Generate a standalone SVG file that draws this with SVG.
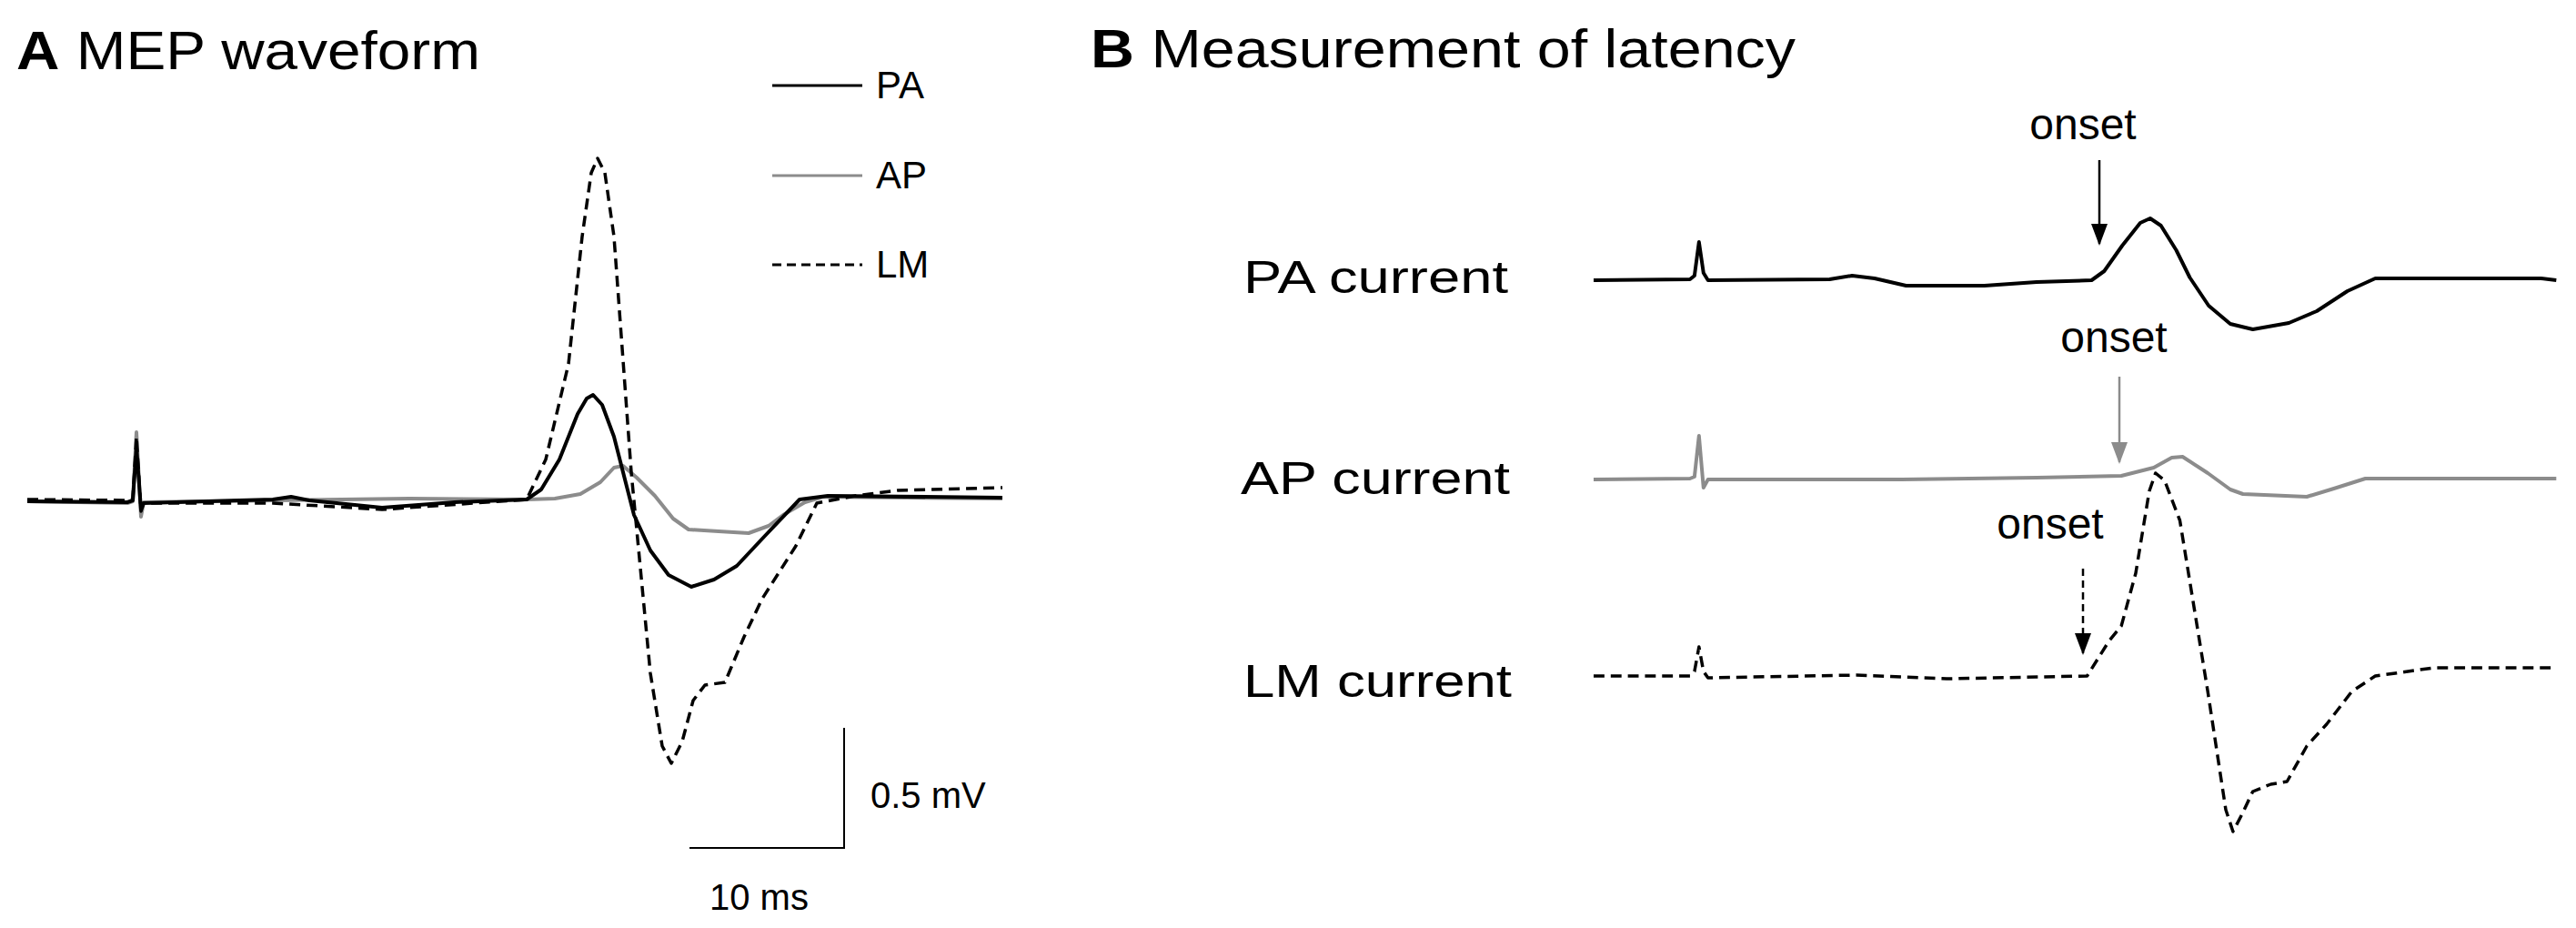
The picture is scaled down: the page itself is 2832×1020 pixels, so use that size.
<svg xmlns="http://www.w3.org/2000/svg" width="2832" height="1020" viewBox="0 0 2832 1020">
<style>
text{font-family:"Liberation Sans",Arial,sans-serif;fill:#000}
.k{fill:none;stroke:#000;stroke-width:4;stroke-linejoin:round}
.g{fill:none;stroke:#8c8c8c;stroke-width:4;stroke-linejoin:round}
.d{fill:none;stroke:#000;stroke-width:3.5;stroke-dasharray:12 7;stroke-linejoin:round}
.t{font-size:60px}
.l{font-size:42px}
.lab{font-size:50px}
.o{font-size:48px;text-anchor:middle}
</style>
<defs>
<marker id="ak" markerWidth="24" markerHeight="18" refX="22" refY="9" orient="auto" markerUnits="userSpaceOnUse" viewBox="0 0 24 18"><path d="M0,0 L24,9 L0,18z" fill="#000"/></marker>
<marker id="ag" markerWidth="24" markerHeight="18" refX="22" refY="9" orient="auto" markerUnits="userSpaceOnUse" viewBox="0 0 24 18"><path d="M0,0 L24,9 L0,18z" fill="#8c8c8c"/></marker>
</defs>
<rect width="2832" height="1020" fill="#fff"/>
<g id="panelA">
<text x="18" y="76" class="t" textLength="510" lengthAdjust="spacingAndGlyphs"><tspan font-weight="bold">A</tspan> MEP waveform</text>
<g id="legend">
<line x1="849" y1="94" x2="948" y2="94" stroke="#000" stroke-width="3"/>
<text x="963" y="108" class="l">PA</text>
<line x1="849" y1="193" x2="948" y2="193" stroke="#8c8c8c" stroke-width="3"/>
<text x="963" y="207" class="l">AP</text>
<line x1="849" y1="291" x2="948" y2="291" stroke="#000" stroke-width="3" stroke-dasharray="10 6"/>
<text x="963" y="305" class="l">LM</text>
</g>
<g id="tracesA">
<path class="g" d="M30,551 L140,553 L146,551 L150,475 L155,568 L158,552 L300,550 L450,548 L579,549 L610,548 L638,543 L660,530 L675,514 L685,512 L700,525 L720,545 L740,570 L757,582 L790,584 L823,586 L845,578 L861,566 L885,552 L905,546 L1102,548"/>
<path class="k" d="M30,551 L140,552 L146,550 L150,492 L155,560 L158,553 L300,549 L320,546 L340,550 L420,558 L500,552 L579,549 L595,538 L615,505 L635,455 L645,438 L652,434 L662,445 L675,480 L697,566 L715,605 L735,632 L760,645 L785,637 L810,622 L840,590 L879,549 L910,545 L1102,547"/>
<path class="d" d="M30,549 L140,550 L146,549 L150,480 L155,562 L158,553 L300,553 L420,560 L579,549 L600,505 L625,400 L640,260 L650,190 L657,174 L665,190 L675,260 L694,519 L715,740 L728,820 L738,839 L750,815 L762,770 L775,753 L797,750 L818,700 L838,658 L875,600 L898,553 L940,545 L987,539 L1102,536"/>
</g>
<g id="scalebar">
<path d="M928,800 L928,932 L758,932" fill="none" stroke="#000" stroke-width="2"/>
<text x="957" y="888" style="font-size:40px">0.5 mV</text>
<text x="780" y="1000" style="font-size:40px">10 ms</text>
</g>
</g>
<g id="panelB">
<text x="1199" y="74" class="t" textLength="775" lengthAdjust="spacingAndGlyphs"><tspan font-weight="bold">B</tspan> Measurement of latency</text>
<text x="1367" y="322" class="lab" textLength="291" lengthAdjust="spacingAndGlyphs">PA current</text>
<text x="1364" y="543" class="lab" textLength="296" lengthAdjust="spacingAndGlyphs">AP current</text>
<text x="1367" y="766" class="lab" textLength="295" lengthAdjust="spacingAndGlyphs">LM current</text>
<g id="tracesB" transform="translate(1752,0) scale(0.99,1) translate(-1758,0)">
<path class="k" d="M1758,308 L1865,307 L1870,303 L1875,266 L1880,300 L1885,308 L2020,307 L2045,303 L2070,306 L2105,314 L2192,314 L2250,310 L2311,308 L2325,298 L2345,270 L2365,245 L2376,240 L2388,248 L2405,275 L2420,305 L2441,336 L2465,356 L2490,362 L2530,355 L2561,342 L2595,320 L2626,306 L2810,306 L2827,308"/>
<path class="g" d="M1758,527 L1865,526 L1870,524 L1875,479 L1880,536 L1885,527 L2100,527 L2250,525 L2344,523 L2380,514 L2400,503 L2412,502 L2440,520 L2465,538 L2479,543 L2550,546 L2580,537 L2615,526 L2827,526"/>
<path class="d" d="M1758,743 L1865,743 L1870,738 L1875,711 L1880,738 L1885,745 L2050,742 L2150,746 L2306,743 L2330,705 L2344,688 L2360,630 L2375,540 L2382,520 L2392,528 L2409,572 L2440,760 L2460,890 L2468,914 L2478,895 L2490,870 L2510,862 L2528,859 L2550,820 L2572,796 L2600,760 L2626,743 L2691,734 L2827,734"/>
</g>
<g id="arrows">
<text x="2290" y="153" class="o">onset</text>
<line x1="2308" y1="176" x2="2308" y2="268" stroke="#000" stroke-width="2.5" marker-end="url(#ak)"/>
<text x="2324" y="387" class="o">onset</text>
<line x1="2330" y1="414" x2="2330" y2="508" stroke="#8c8c8c" stroke-width="2.5" marker-end="url(#ag)"/>
<text x="2254" y="592" class="o">onset</text>
<line x1="2290" y1="625" x2="2290" y2="718" stroke="#000" stroke-width="2.5" stroke-dasharray="8 5" marker-end="url(#ak)"/>
</g>
</g>
</svg>
